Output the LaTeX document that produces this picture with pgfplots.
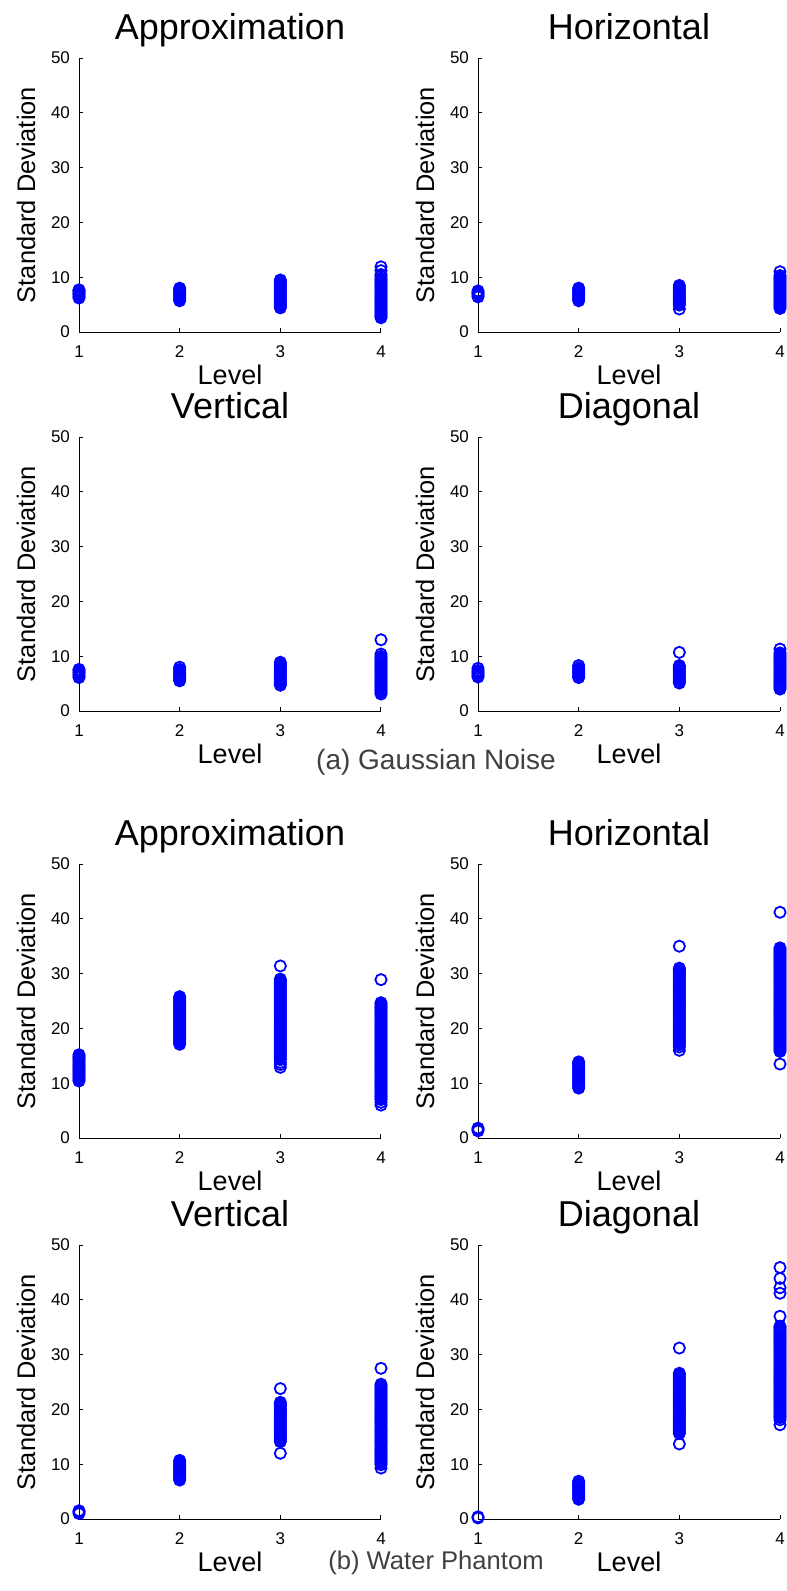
\documentclass[border=0pt]{standalone}
\usepackage{pgfplots}
\pgfplotsset{compat=1.18}
\usepackage{fontspec}
\setmainfont{Liberation Sans}

\pgfplotsset{
  sdplot/.style={
    scale only axis, width=151pt, height=137pt,
    xmin=1, xmax=4, ymin=0, ymax=50,
    xtick={1,2,3,4}, ytick={0,10,...,50},
    axis x line*=bottom, axis y line*=left,
    axis line style={black, line width=0.5pt},
    tick align=inside, major tick length=2pt,
    tick style={black, line width=0.5pt},
    clip=false,
    /pgf/number format/assume math mode=true,
    tick label style={font=\fontsize{8.5}{9}\selectfont},
    xticklabel style={yshift=-3.5pt},
    yticklabel style={xshift=-1pt},
    every axis title shift=0pt,
    title style={at={(0.5,1)}, anchor=base, yshift=9.5pt, font=\fontsize{18}{20}\selectfont},
    xlabel={Level}, ylabel={Standard Deviation},
    xlabel style={at={(axis description cs:0.5,0)}, anchor=center, yshift=-21.5pt, font=\fontsize{13.5}{15}\selectfont},
    ylabel style={at={(axis description cs:-0.175,0.5)}, anchor=center, font=\fontsize{12.7}{15}\selectfont},
  },
  pts/.style={only marks, mark=o, mark size=2.8pt, color=blue, mark options={line width=0.9pt}},
}

\begin{document}
\begin{tikzpicture}
\path[use as bounding box] (0,0) rectangle (393.5pt,-795.5pt);

% (a) Gaussian noise
\begin{axis}[sdplot, at={(39.5pt,-166pt)}, anchor=south west, title={Approximation}]
\addplot[pts] coordinates {
(1,6.2)(1,6.5)(1,6.8)(1,7.0)(1,7.3)(1,7.5)(1,7.7)
(2,5.7)(2,6.0)(2,6.3)(2,6.6)(2,6.9)(2,7.2)(2,7.5)(2,7.8)(2,8.0)
(3,4.4)(3,4.7)(3,5.0)(3,5.3)(3,5.6)(3,5.9)(3,6.2)(3,6.5)(3,6.8)(3,7.1)(3,7.4)(3,7.7)(3,8.0)(3,8.3)(3,8.6)(3,8.9)(3,9.2)(3,9.5)
(4,2.6)(4,2.9)(4,3.2)(4,3.5)(4,3.8)(4,4.1)(4,4.4)(4,4.7)(4,5.0)(4,5.3)(4,5.6)(4,5.9)(4,6.2)(4,6.5)(4,6.8)(4,7.1)(4,7.4)(4,7.7)(4,8.0)(4,8.3)(4,8.6)(4,8.9)(4,9.2)(4,9.5)(4,9.8)(4,10.2)(4,10.5)(4,11.2)(4,11.9)
};
\end{axis}

\begin{axis}[sdplot, at={(239pt,-166pt)}, anchor=south west, title={Horizontal}]
\addplot[pts] coordinates {
(1,6.4)(1,6.7)(1,7.0)(1,7.2)(1,7.5)
(2,5.7)(2,6.0)(2,6.3)(2,6.6)(2,6.9)(2,7.2)(2,7.5)(2,7.8)(2,8.0)
(3,4.2)(3,4.9)(3,5.2)(3,5.5)(3,5.8)(3,6.1)(3,6.4)(3,6.7)(3,7.0)(3,7.3)(3,7.6)(3,7.9)(3,8.2)(3,8.5)
(4,4.3)(4,4.6)(4,4.9)(4,5.2)(4,5.5)(4,5.8)(4,6.1)(4,6.4)(4,6.7)(4,7.0)(4,7.3)(4,7.6)(4,7.9)(4,8.2)(4,8.5)(4,8.8)(4,9.1)(4,9.4)(4,9.7)(4,10.0)(4,10.3)(4,11.0)
};
\end{axis}

\begin{axis}[sdplot, at={(39.5pt,-355.5pt)}, anchor=south west, title={Vertical}]
\addplot[pts] coordinates {
(1,6.1)(1,6.4)(1,6.7)(1,7.0)(1,7.3)(1,7.6)
(2,5.5)(2,5.8)(2,6.1)(2,6.4)(2,6.7)(2,7.0)(2,7.3)(2,7.6)(2,8.0)
(3,4.7)(3,5.0)(3,5.3)(3,5.6)(3,5.9)(3,6.2)(3,6.5)(3,6.8)(3,7.1)(3,7.4)(3,7.7)(3,8.0)(3,8.3)(3,8.6)(3,8.9)
(4,3.1)(4,3.4)(4,3.7)(4,4.0)(4,4.3)(4,4.6)(4,4.9)(4,5.2)(4,5.5)(4,5.8)(4,6.1)(4,6.4)(4,6.7)(4,7.0)(4,7.3)(4,7.6)(4,7.9)(4,8.2)(4,8.5)(4,8.8)(4,9.1)(4,9.4)(4,9.7)(4,10.0)(4,10.4)(4,13.0)
};
\end{axis}

\begin{axis}[sdplot, at={(239pt,-355.5pt)}, anchor=south west, title={Diagonal}]
\addplot[pts] coordinates {
(1,6.2)(1,6.5)(1,6.8)(1,7.1)(1,7.4)(1,7.8)
(2,6.1)(2,6.4)(2,6.7)(2,7.0)(2,7.3)(2,7.6)(2,7.9)(2,8.3)
(3,5.1)(3,5.4)(3,5.7)(3,6.0)(3,6.3)(3,6.6)(3,6.9)(3,7.2)(3,7.5)(3,7.8)(3,8.1)(3,8.3)(3,10.7)
(4,4.0)(4,4.3)(4,4.6)(4,4.9)(4,5.2)(4,5.5)(4,5.8)(4,6.1)(4,6.4)(4,6.7)(4,7.0)(4,7.3)(4,7.6)(4,7.9)(4,8.2)(4,8.5)(4,8.8)(4,9.1)(4,9.4)(4,9.7)(4,10.0)(4,10.3)(4,10.6)(4,11.3)
};
\end{axis}

\node[font=\fontsize{14}{16}\selectfont, text=black!75] at (218pt,-381pt) {(a) Gaussian Noise};

% (b) Water phantom
\begin{axis}[sdplot, at={(39.5pt,-569pt)}, anchor=south west, title={Approximation}]
\addplot[pts] coordinates {
(1,10.4)(1,10.7)(1,11.0)(1,11.3)(1,11.6)(1,11.9)(1,12.2)(1,12.5)(1,12.8)(1,13.1)(1,13.4)(1,13.7)(1,14.0)(1,14.3)(1,14.6)(1,14.9)(1,15.2)
(2,17.1)(2,17.4)(2,17.7)(2,18.0)(2,18.3)(2,18.6)(2,18.9)(2,19.2)(2,19.5)(2,19.8)(2,20.1)(2,20.4)(2,20.7)(2,21.0)(2,21.3)(2,21.6)(2,21.9)(2,22.2)(2,22.5)(2,22.8)(2,23.1)(2,23.4)(2,23.7)(2,24.0)(2,24.3)(2,24.6)(2,24.9)(2,25.2)(2,25.5)(2,25.8)
(3,12.9)(3,13.4)(3,13.8)(3,14.3)(3,14.6)(3,14.9)(3,15.2)(3,15.5)(3,15.8)(3,16.1)(3,16.4)(3,16.7)(3,17.0)(3,17.3)(3,17.6)(3,17.9)(3,18.2)(3,18.5)(3,18.8)(3,19.1)(3,19.4)(3,19.7)(3,20.0)(3,20.3)(3,20.6)(3,20.9)(3,21.2)(3,21.5)(3,21.8)(3,22.1)(3,22.4)(3,22.7)(3,23.0)(3,23.3)(3,23.6)(3,23.9)(3,24.2)(3,24.5)(3,24.8)(3,25.1)(3,25.4)(3,25.7)(3,26.0)(3,26.3)(3,26.6)(3,26.9)(3,27.2)(3,27.5)(3,27.8)(3,28.1)(3,28.4)(3,28.7)(3,29.0)(3,31.4)
(4,6.0)(4,6.5)(4,7.0)(4,7.3)(4,7.6)(4,7.9)(4,8.2)(4,8.5)(4,8.8)(4,9.1)(4,9.4)(4,9.7)(4,10.0)(4,10.3)(4,10.6)(4,10.9)(4,11.2)(4,11.5)(4,11.8)(4,12.1)(4,12.4)(4,12.7)(4,13.0)(4,13.3)(4,13.6)(4,13.9)(4,14.2)(4,14.5)(4,14.8)(4,15.1)(4,15.4)(4,15.7)(4,16.0)(4,16.3)(4,16.6)(4,16.9)(4,17.2)(4,17.5)(4,17.8)(4,18.1)(4,18.4)(4,18.7)(4,19.0)(4,19.3)(4,19.6)(4,19.9)(4,20.2)(4,20.5)(4,20.8)(4,21.1)(4,21.4)(4,21.7)(4,22.0)(4,22.3)(4,22.6)(4,22.9)(4,23.2)(4,23.5)(4,23.8)(4,24.1)(4,24.4)(4,24.7)(4,28.9)
};
\end{axis}

\begin{axis}[sdplot, at={(239pt,-569pt)}, anchor=south west, title={Horizontal}]
\addplot[pts] coordinates {
(1,1.3)(1,1.6)(1,1.8)
(2,9.1)(2,9.4)(2,9.7)(2,10.0)(2,10.3)(2,10.6)(2,10.9)(2,11.2)(2,11.5)(2,11.8)(2,12.1)(2,12.4)(2,12.7)(2,13.0)(2,13.3)(2,13.6)(2,13.9)
(3,16.0)(3,16.6)(3,17.0)(3,17.3)(3,17.6)(3,17.9)(3,18.2)(3,18.5)(3,18.8)(3,19.1)(3,19.4)(3,19.7)(3,20.0)(3,20.3)(3,20.6)(3,20.9)(3,21.2)(3,21.5)(3,21.8)(3,22.1)(3,22.4)(3,22.7)(3,23.0)(3,23.3)(3,23.6)(3,23.9)(3,24.2)(3,24.5)(3,24.8)(3,25.1)(3,25.4)(3,25.7)(3,26.0)(3,26.3)(3,26.6)(3,26.9)(3,27.2)(3,27.5)(3,27.8)(3,28.1)(3,28.4)(3,28.7)(3,29.0)(3,29.3)(3,29.6)(3,29.9)(3,30.2)(3,30.5)(3,30.8)(3,31.0)(3,35.0)
(4,13.5)(4,15.8)(4,16.1)(4,16.4)(4,16.7)(4,17.0)(4,17.3)(4,17.6)(4,17.9)(4,18.2)(4,18.5)(4,18.8)(4,19.1)(4,19.4)(4,19.7)(4,20.0)(4,20.3)(4,20.6)(4,20.9)(4,21.2)(4,21.5)(4,21.8)(4,22.1)(4,22.4)(4,22.7)(4,23.0)(4,23.3)(4,23.6)(4,23.9)(4,24.2)(4,24.5)(4,24.8)(4,25.1)(4,25.4)(4,25.7)(4,26.0)(4,26.3)(4,26.6)(4,26.9)(4,27.2)(4,27.5)(4,27.8)(4,28.1)(4,28.4)(4,28.7)(4,29.0)(4,29.3)(4,29.6)(4,29.9)(4,30.2)(4,30.5)(4,30.8)(4,31.1)(4,31.4)(4,31.7)(4,32.0)(4,32.3)(4,32.6)(4,32.9)(4,33.2)(4,33.5)(4,33.8)(4,34.1)(4,34.4)(4,34.7)(4,41.2)
};
\end{axis}

\begin{axis}[sdplot, at={(39.5pt,-759.5pt)}, anchor=south west, title={Vertical}]
\addplot[pts] coordinates {
(1,1.0)(1,1.3)(1,1.5)
(2,7.1)(2,7.4)(2,7.7)(2,8.0)(2,8.3)(2,8.6)(2,8.9)(2,9.2)(2,9.5)(2,9.8)(2,10.1)(2,10.4)(2,10.7)
(3,12.0)(3,14.1)(3,14.4)(3,14.7)(3,15.0)(3,15.3)(3,15.6)(3,15.9)(3,16.2)(3,16.5)(3,16.8)(3,17.1)(3,17.4)(3,17.7)(3,18.0)(3,18.3)(3,18.6)(3,18.9)(3,19.2)(3,19.5)(3,19.8)(3,20.1)(3,20.4)(3,20.7)(3,21.0)(3,21.3)(3,23.8)
(4,9.3)(4,9.9)(4,10.2)(4,10.5)(4,10.8)(4,11.1)(4,11.4)(4,11.7)(4,12.0)(4,12.3)(4,12.6)(4,12.9)(4,13.2)(4,13.5)(4,13.8)(4,14.1)(4,14.4)(4,14.7)(4,15.0)(4,15.3)(4,15.6)(4,15.9)(4,16.2)(4,16.5)(4,16.8)(4,17.1)(4,17.4)(4,17.7)(4,18.0)(4,18.3)(4,18.6)(4,18.9)(4,19.2)(4,19.5)(4,19.8)(4,20.1)(4,20.4)(4,20.7)(4,21.0)(4,21.3)(4,21.6)(4,21.9)(4,22.2)(4,22.5)(4,22.8)(4,23.1)(4,23.4)(4,23.7)(4,24.0)(4,24.3)(4,24.6)(4,27.5)
};
\end{axis}

\begin{axis}[sdplot, at={(239pt,-759.5pt)}, anchor=south west, title={Diagonal}]
\addplot[pts] coordinates {
(1,0.2)(1,0.4)
(2,3.6)(2,3.9)(2,4.2)(2,4.5)(2,4.8)(2,5.1)(2,5.4)(2,5.7)(2,6.0)(2,6.3)(2,6.6)(2,6.9)
(3,13.7)(3,15.6)(3,15.9)(3,16.2)(3,16.5)(3,16.8)(3,17.1)(3,17.4)(3,17.7)(3,18.0)(3,18.3)(3,18.6)(3,18.9)(3,19.2)(3,19.5)(3,19.8)(3,20.1)(3,20.4)(3,20.7)(3,21.0)(3,21.3)(3,21.6)(3,21.9)(3,22.2)(3,22.5)(3,22.8)(3,23.1)(3,23.4)(3,23.7)(3,24.0)(3,24.3)(3,24.6)(3,24.9)(3,25.2)(3,25.5)(3,25.8)(3,26.1)(3,26.4)(3,26.6)(3,31.2)
(4,17.2)(4,18.1)(4,18.5)(4,18.8)(4,19.1)(4,19.4)(4,19.7)(4,20.0)(4,20.3)(4,20.6)(4,20.9)(4,21.2)(4,21.5)(4,21.8)(4,22.1)(4,22.4)(4,22.7)(4,23.0)(4,23.3)(4,23.6)(4,23.9)(4,24.2)(4,24.5)(4,24.8)(4,25.1)(4,25.4)(4,25.7)(4,26.0)(4,26.3)(4,26.6)(4,26.9)(4,27.2)(4,27.5)(4,27.8)(4,28.1)(4,28.4)(4,28.7)(4,29.0)(4,29.3)(4,29.6)(4,29.9)(4,30.2)(4,30.5)(4,30.8)(4,31.1)(4,31.4)(4,31.7)(4,32.0)(4,32.3)(4,32.6)(4,32.9)(4,33.2)(4,33.5)(4,33.8)(4,34.1)(4,34.4)(4,34.7)(4,35.0)(4,35.2)(4,37.0)(4,41.2)(4,42.2)(4,43.9)(4,45.9)
};
\end{axis}

\node[font=\fontsize{12.8}{15}\selectfont, text=black!75] at (218pt,-781.5pt) {(b) Water Phantom};
\end{tikzpicture}
\end{document}
